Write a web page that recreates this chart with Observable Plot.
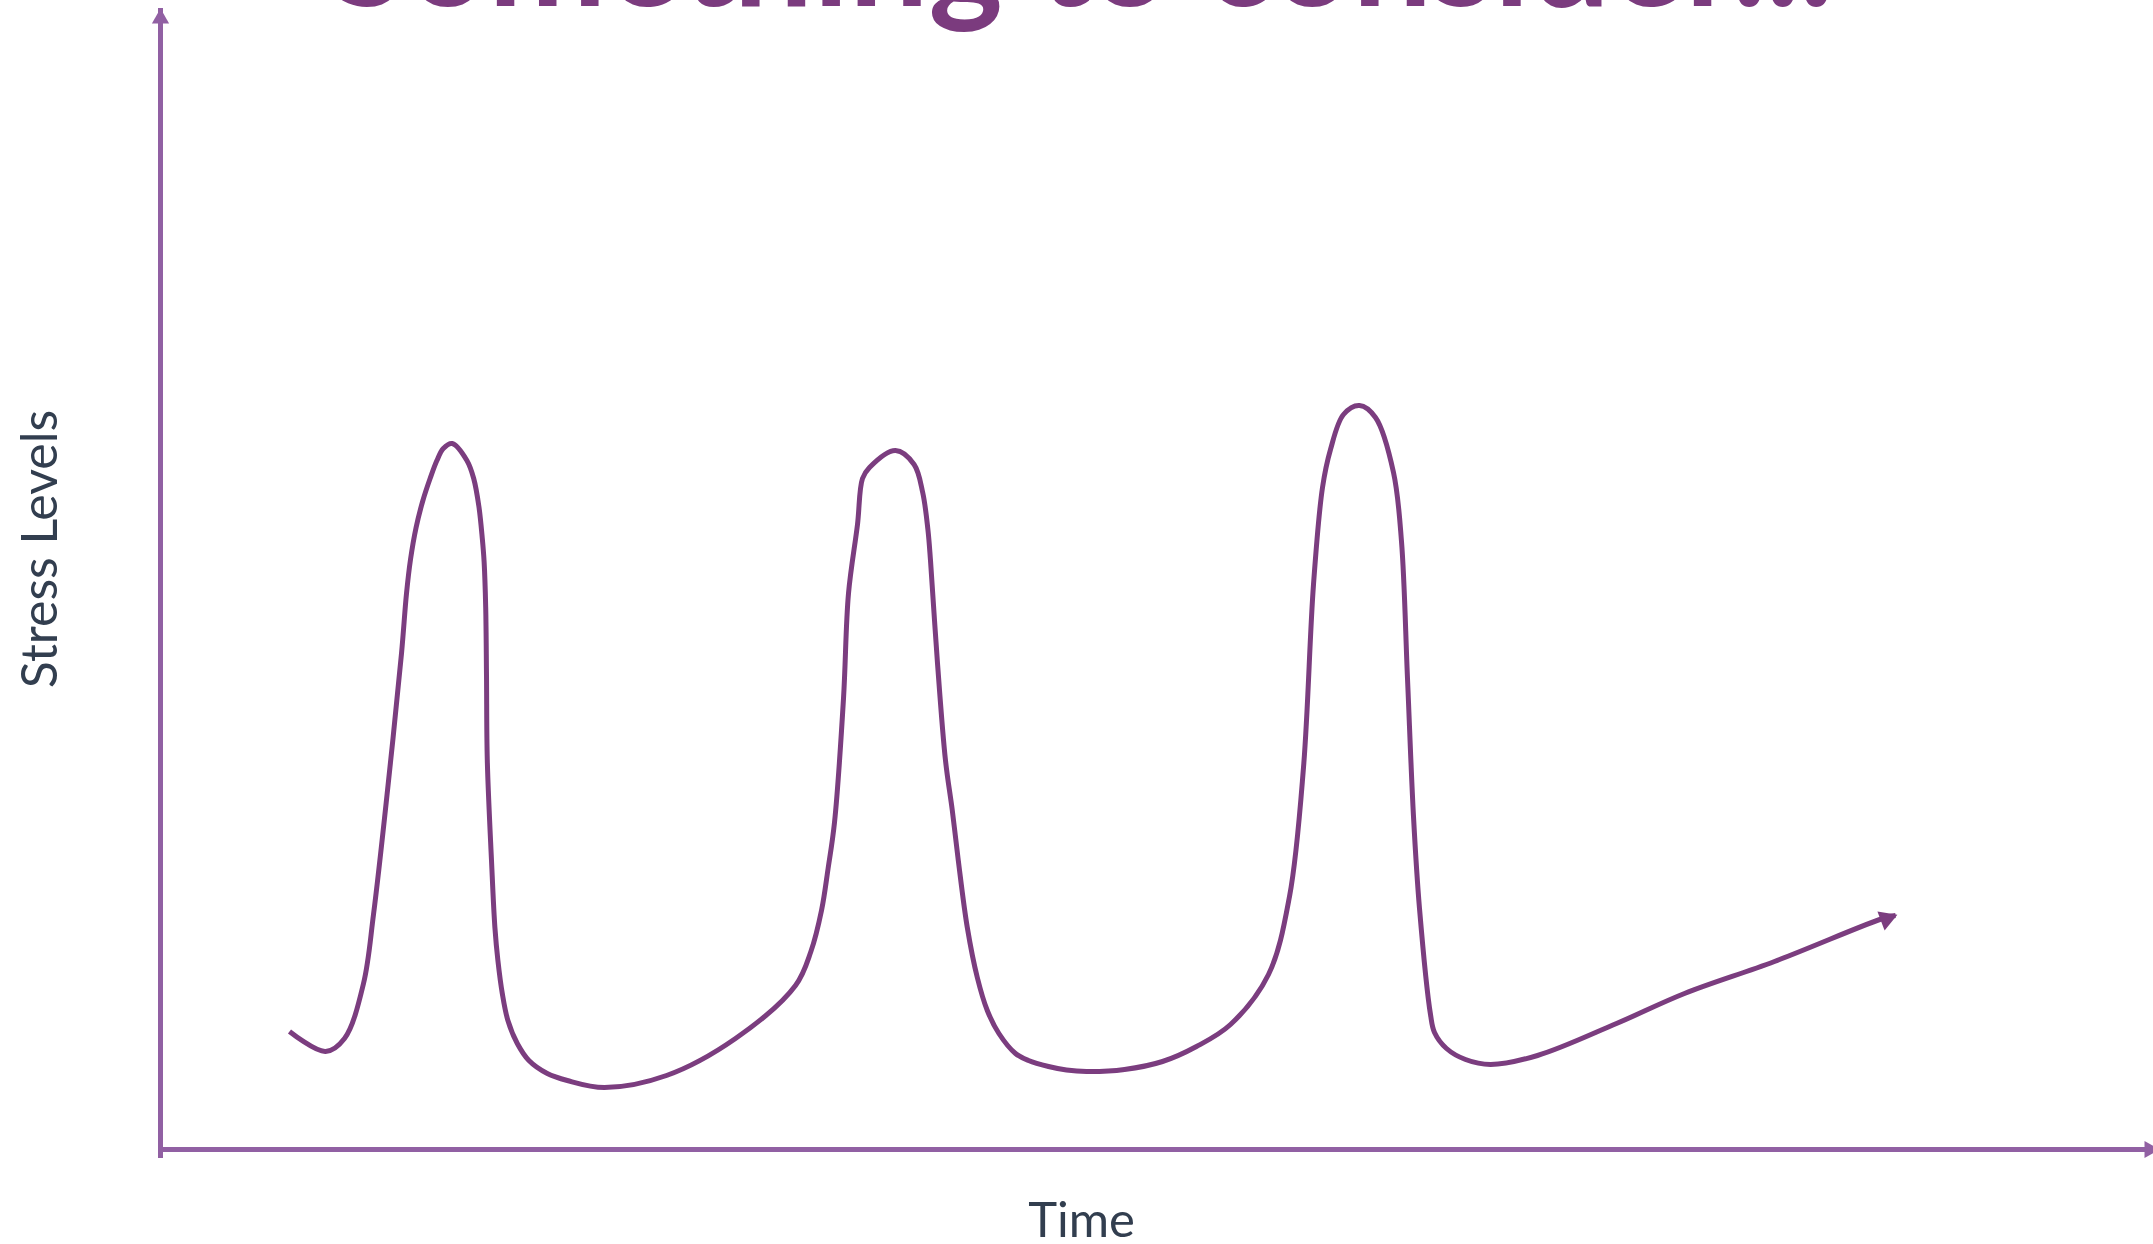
<!DOCTYPE html>
<html>
<head>
<meta charset="utf-8">
<script src="https://cdn.jsdelivr.net/npm/d3@7"></script>
<script src="https://cdn.jsdelivr.net/npm/@observablehq/plot@0.6"></script>
<style>
  html, body { margin: 0; padding: 0; background: #ffffff; overflow: hidden; width: 2153px; height: 1244px; }
  #wrap { position: relative; width: 2153px; height: 1244px; }
  #chart { position: absolute; left: 0; top: 0; }
  #title { position: absolute; margin: 0; padding: 0; white-space: nowrap; font-family: Lato, "Open Sans", sans-serif; font-weight: 700; color: #7b3b7e; }
</style>
</head>
<body>
<div id="wrap"><div id="chart"></div><h1 id="title"></h1></div>
<script>
// ---- text ----
const title = "Something to consider...";
const xLabel = "Time";
const yLabel = "Stress Levels";

// ---- data (time units, stress level units) ----
const time = [
  6.45, 8.25, 9.2, 10.15, 10.65, 11.35, 12.05, 12.3, 12.5, 12.78, 13.12, 13.48, 13.82, 14.14, 14.58,
  15.32, 15.66, 15.92, 16.09, 16.18, 16.26, 16.3, 16.34, 16.55, 16.72, 16.87, 17.09, 17.37, 17.84, 18.42, 19.34, 20.34,
  22.2, 25.3, 28.75, 31.75, 32.52, 33.05, 33.38, 33.7, 34.15, 34.4, 34.85, 35.1, 35.45, 36.75,
  37.68, 38.11, 38.37, 38.5, 38.84, 39.25, 39.59, 39.89, 40.34, 40.84, 41.34, 41.92, 42.75, 43.4, 44.4, 45.3,
  46.3, 48.2, 50.1, 51.8, 53.5, 55.4, 56.45, 57.15, 57.65, 58.1, 58.5, 59.15, 59.95, 60.75, 61.65, 62.05, 62.35, 62.65,
  62.95, 63.5, 63.7, 64.3, 65.25, 66.5, 68.85, 72.8, 76.2, 80.7, 86.25, 86.75
];
const stress = [
  11.8, 9.8, 11.1, 16.6, 23.5, 35.9, 49.6, 55.6, 59.0, 62.2, 64.9, 67.1, 68.9, 70.1, 70.6,
  68.9, 67.1, 64.3, 61.1, 58.8, 54.2, 47.4, 38.9, 28.9, 22.2, 18.9, 15.6, 12.9, 10.6, 8.9, 7.6, 6.9,
  6.2, 7.4, 11.1, 16.4, 19.8, 23.9, 28.1, 32.7, 45.1, 55.6, 62.5, 67.1, 68.2, 69.9,
  68.5, 65.7, 62.0, 58.9, 48.9, 38.9, 33.9, 28.9, 22.2, 17.2, 13.9, 11.6, 9.6, 8.9, 8.3, 7.95,
  7.8, 8.0, 8.8, 10.3, 12.5, 17.5, 25.3, 38.2, 56.5, 66.2, 70.0, 73.5, 74.4, 73.2, 67.7, 60.8, 47.1, 33.3,
  24.1, 13.5, 11.7, 10.1, 9.0, 8.5, 9.4, 12.6, 15.6, 18.8, 23.2, 23.4
];
const timeDomain = [0, 99.65];
const stressDomain = [0, 114.1];

// ---- layout / style ----
const W = 2153, H = 1244;
const mL = 160, mR = 0, mT = 8, mB = 95;
const curveColor = "#7b3d7f";
const axisColor = "#9160a3";
const textColor = "#323e4f";
const font = "Lato, 'Open Sans', sans-serif";

const data = time.map((t, i) => ({t, s: stress[i]}));

// direction of the curve's final arrow (screen space)
const kx = (W - mL - mR) / (timeDomain[1] - timeDomain[0]);
const ky = (H - mT - mB) / (stressDomain[1] - stressDomain[0]);
const n = data.length;
const a = data[n - 1], b = data[n - 3];
const ang = Math.atan2(-(a.s - b.s) * ky, (a.t - b.t) * kx);
const axR = 6.4, curR = 7.5;
const half = r => Math.sqrt(r * r * Math.PI / (3 * Math.sqrt(3)));
const back = 2 * half(curR) - 2;

const plot = Plot.plot({
  width: W,
  height: H,
  marginLeft: mL, marginRight: mR, marginTop: mT, marginBottom: mB,
  x: {domain: timeDomain, axis: null},
  y: {domain: stressDomain, axis: null},
  style: {background: "transparent", overflow: "visible"},
  marks: [
    // axes
    Plot.ruleX([{x: timeDomain[0], y1: stressDomain[0], y2: stressDomain[1]}], {x: "x", y1: "y1", y2: "y2", stroke: axisColor, strokeWidth: 5, insetTop: 9}),
    Plot.ruleY([{y: stressDomain[0], x1: timeDomain[0], x2: timeDomain[1]}], {y: "y", x1: "x1", x2: "x2", stroke: axisColor, strokeWidth: 5}),
    Plot.dot([{x: timeDomain[0], y: stressDomain[1]}], {x: "x", y: "y", symbol: "triangle", r: axR, fill: axisColor, stroke: null, dy: 2 * half(axR)}),
    Plot.dot([{x: timeDomain[1], y: stressDomain[0]}], {x: "x", y: "y", symbol: "triangle", r: axR, fill: axisColor, stroke: null, rotate: 90, dx: -4}),
    // stress curve
    Plot.line(data, {x: "t", y: "s", curve: "catmull-rom", stroke: curveColor, strokeWidth: 5, strokeLinecap: "butt"}),
    Plot.dot([a], {x: "t", y: "s", symbol: "triangle", r: curR, fill: curveColor, stroke: null,
      rotate: 90 + ang * 180 / Math.PI, dx: -back * Math.cos(ang), dy: -back * Math.sin(ang)}),
    // axis labels
    Plot.text([yLabel], {text: d => d, frameAnchor: "left", rotate: -90, lineAnchor: "middle", textAnchor: "middle",
      dx: -120, dy: -30, fontSize: 50, fontFamily: font, fill: textColor}),
    Plot.text([xLabel], {text: d => d, frameAnchor: "bottom", lineAnchor: "middle", textAnchor: "middle",
      dx: -75.5, dy: 72, fontSize: 49, fontFamily: font, fill: textColor})
  ]
});
document.getElementById("chart").appendChild(plot);

// ---- title, mostly cut off at the top as in the picture ----
const tEl = document.getElementById("title");
tEl.textContent = title;
const ctx = document.createElement("canvas").getContext("2d");
ctx.font = `700 100px ${font}`;
const w100 = ctx.measureText(title).width;
const fs = 100 * 1503 / w100;
ctx.font = `700 ${fs}px ${font}`;
const m = ctx.measureText(title);
const asc = m.fontBoundingBoxAscent || fs * 0.99;
const desc = m.fontBoundingBoxDescent || fs * 0.21;
tEl.style.fontSize = fs + "px";
tEl.style.lineHeight = (asc + desc) + "px";
tEl.style.top = (6 - asc) + "px";
tEl.style.left = (1081.5 - m.width / 2) + "px";
</script>
</body>
</html>
